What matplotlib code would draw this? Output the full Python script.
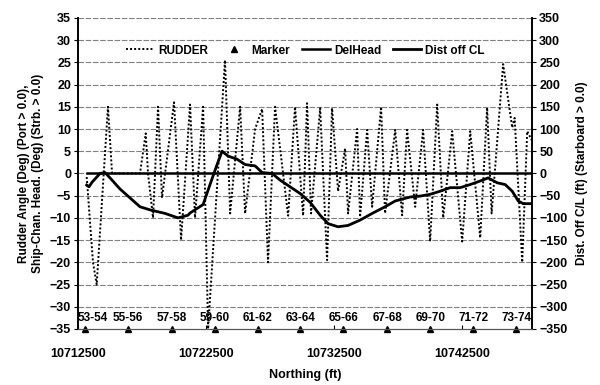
import matplotlib
matplotlib.use("Agg")
import matplotlib.pyplot as plt
from matplotlib.ticker import FixedLocator, FuncFormatter

plt.rcParams['font.family'] = ['Liberation Sans', 'DejaVu Sans']
plt.rcParams['font.weight'] = 'bold'

# rudder angle (deg) vs northing (ft)
rudder_n = [10713180, 10713670, 10713960, 10714840, 10715160, 10717340, 10717790, 10717970,
            10718360, 10718750, 10719060, 10720000, 10720550, 10721250, 10721640, 10722270,
            10722660, 10723980, 10724380, 10725160, 10725550, 10726330, 10726880, 10727340,
            10727890, 10728910, 10729450, 10730080, 10730390, 10730700, 10731410, 10731950,
            10732340, 10732810, 10733360, 10733590, 10734300, 10734530, 10735080, 10735470,
            10736170, 10736480, 10737270, 10737810, 10738200, 10738830, 10739450, 10740000,
            10740550, 10741020, 10741720, 10742500, 10743130, 10743910, 10744450, 10744800,
            10745700, 10746410, 10746600, 10747190, 10747580, 10747970]
rudder = [-0.8, -20, -25, 15, 0, 0, 9, 0,
          -10, 15, -5.5, 16, -15, 15.5, -10, 15,
          -35, 25.5, -9, 15, -9, 10, 14.5, -20,
          15, -9.5, 15, -9.5, 15.8, -9, 14.7, -19.5,
          14.7, -4, 5.6, -9, 10, -9.8, 9.8, -7.5,
          15, -9, 9.8, -9.4, 9.8, -7.5, 9.8, -15.3,
          15.5, -10, 9.5, -15.3, 9.5, -14.5, 14.8, -9,
          24.6, 10.3, 12.5, -20, 9.5, 7.3]

# heading difference (deg)
delhead_n = [10713180, 10720000, 10730000, 10740000, 10747970]
delhead = [0, 0, 0, 0, 0]

# distance off centre line (ft)
dist_n = [10713180, 10713360, 10713590, 10714220, 10714610, 10715000, 10715780, 10716560,
          10717340, 10718130, 10719300, 10720310, 10721090, 10721250, 10722270, 10722810,
          10723360, 10723750, 10724220, 10724920, 10725550, 10726330, 10726880, 10727660,
          10728280, 10729060, 10729840, 10730630, 10731410, 10732030, 10732810, 10733590,
          10734530, 10735470, 10736480, 10737270, 10738440, 10739220, 10740000, 10740780,
          10741560, 10742340, 10743130, 10743910, 10744530, 10745230, 10745860, 10746410,
          10746880, 10747270, 10747970]
dist = [-26, -30, -20, 0, 2, -10, -35, -55,
        -75, -82, -90, -100, -94, -89, -70, -25,
        20, 50, 39, 32, 20, 17, 2, 0,
        -15, -30, -45, -65, -94, -113, -120, -117,
        -105, -90, -75, -62, -53, -51, -47, -40,
        -32, -32, -25, -17, -10, -21, -25, -40,
        -62, -68, -68]

# buoy markers
marker_n = [10713050, 10716410, 10719840, 10723200, 10726560, 10729840,
            10733200, 10736640, 10740000, 10743360, 10746720]
marker_lbl = ['53-54', '55-56', '57-58', '59-60', '61-62', '63-64',
              '65-66', '67-68', '69-70', '71-72', '73-74']

fig = plt.figure(figsize=(6, 3.85), dpi=100)
ax = fig.add_axes([0.13, 0.1455, 0.757, 0.808])
ax2 = ax.twinx()

xmin, xmax = 10712500, 10747970
ax.set_xlim(xmin, xmax)
ax.set_ylim(-35, 35)
ax2.set_ylim(-350, 350)

for v in range(-30, 36, 5):
    ax.axhline(v, color='#808080', lw=0.8, ls=(0, (5, 1.5)), zorder=0)

l1, = ax.plot(rudder_n, rudder, color='black', lw=1.4, ls=(0, (1, 1.1)), label='RUDDER')
l2, = ax.plot(marker_n, [-35] * len(marker_n), ls='none', marker='^', ms=5,
              color='black', clip_on=False, label='Marker')
l3, = ax.plot(delhead_n, delhead, color='black', lw=1.8, label='DelHead')
l4, = ax2.plot(dist_n, dist, color='black', lw=2, label='Dist off CL')

for i, (n, s) in enumerate(zip(marker_n, marker_lbl)):
    if i == 0:
        ax.text(xmin, -32.5, s, ha='left', va='center', fontsize=8.5, fontweight='bold')
    else:
        ax.text(n, -32.5, s, ha='center', va='center', fontsize=8.5, fontweight='bold')

ax.legend(handles=[l1, l2, l3, l4], ncol=4, frameon=False, loc='center',
          bbox_to_anchor=(0.5, 0.895), fontsize=8.5, handlelength=2.4,
          handletextpad=0.3, columnspacing=1.0)

ax.xaxis.set_major_locator(FixedLocator([10712500, 10722500, 10732500, 10742500]))
ax.xaxis.set_major_formatter(FuncFormatter(lambda v, p: '%d' % v))
ax.set_yticks(range(-35, 36, 5))
ax2.set_yticks(range(-350, 351, 50))
ax.tick_params(axis='x', direction='in', length=3, pad=14, labelsize=9)
ax.tick_params(axis='y', direction='out', length=3, labelsize=9, pad=2)
ax2.tick_params(axis='y', direction='out', length=3, labelsize=9, pad=2)

for a in (ax, ax2):
    a.spines['top'].set_visible(False)
    a.spines['bottom'].set_color('#555555')
    a.spines['left'].set_linewidth(1.2)
    a.spines['right'].set_linewidth(1.2)

ax.set_xlabel('Northing (ft)', fontsize=9, fontweight='bold', labelpad=6)
ax.set_ylabel('Rudder Angle (Deg) (Port > 0.0),\nShip-Chan. Head. (Deg) (Strb. > 0.0)',
              fontsize=8.5, fontweight='bold', labelpad=4)
ax2.set_ylabel('Dist. Off C/L (ft) (Starboard > 0.0)', fontsize=8.5, fontweight='bold',
               labelpad=6)

fig.savefig('out.png', dpi=100)
